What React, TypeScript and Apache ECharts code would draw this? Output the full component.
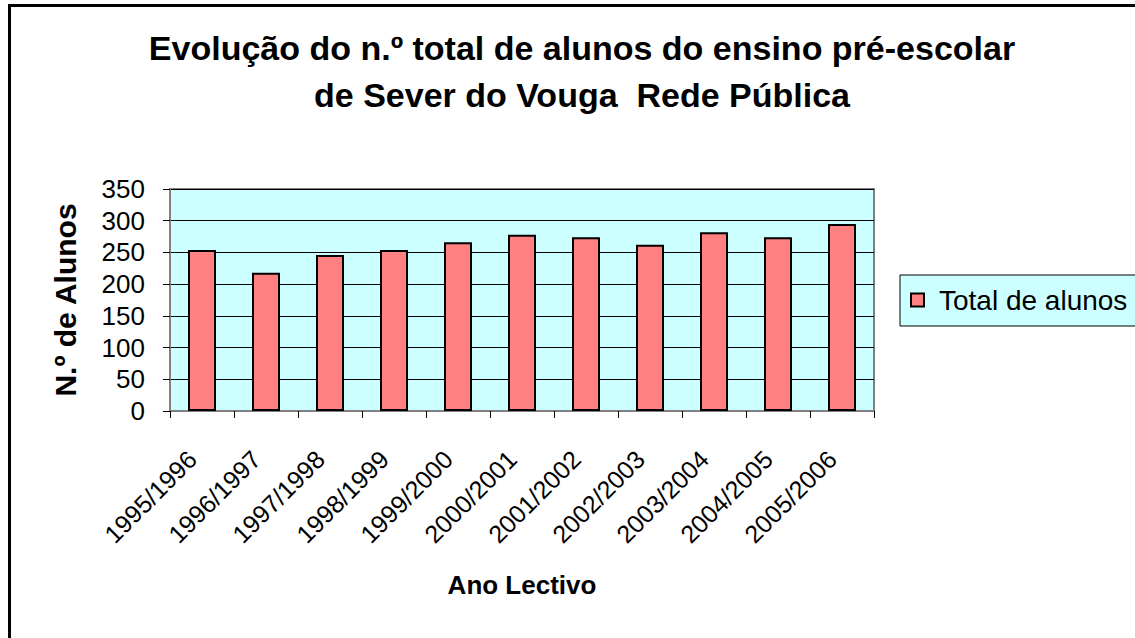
import React, { useEffect, useRef } from "react";
import * as echarts from "echarts";

const categories = [
  "1995/1996", "1996/1997", "1997/1998", "1998/1999", "1999/2000", "2000/2001",
  "2001/2002", "2002/2003", "2003/2004", "2004/2005", "2005/2006",
];
const totalAlunos = [254, 218, 246, 254, 266, 278, 274, 262, 282, 274, 295];
const seriesName = "Total de alunos";
const titleText = "Evolução do n.º total de alunos do ensino pré-escolar\nde Sever do Vouga  Rede Pública";
const yAxisName = "N.º de Alunos";
const xAxisName = "Ano Lectivo";

const FONT = "'Liberation Sans', Arial, sans-serif";

export default function App() {
  const ref = useRef<HTMLDivElement>(null);
  useEffect(() => {
    const chart = echarts.init(ref.current!, null, { renderer: "svg" });
    chart.setOption({
      animation: false,
      backgroundColor: "#ffffff",
      textStyle: { fontFamily: FONT, color: "#000" },
      title: {
        text: titleText,
        left: 577,
        textAlign: "center",
        top: 19,
        textStyle: { fontFamily: FONT, fontSize: 34, fontWeight: "bold", color: "#000", lineHeight: 47 },
      },
      graphic: [
        {
          type: "rect",
          shape: { x: 9.5, y: 5.5, width: 1300, height: 800 },
          style: { fill: "none", stroke: "#000", lineWidth: 3 },
          silent: true,
        },
      ],
      legend: {
        left: 900,
        top: 275,
        orient: "vertical",
        backgroundColor: "#CCFFFF",
        borderColor: "#000",
        borderWidth: 1,
        padding: [11, 30, 12, 10],
        itemWidth: 13,
        itemHeight: 13,
        icon: "rect",
        itemStyle: { borderColor: "#000", borderWidth: 2 },
        textStyle: { fontFamily: FONT, fontSize: 28, color: "#000", padding: [0, 0, 0, 10] },
        data: [seriesName],
      },
      grid: {
        left: 170,
        right: 261,
        top: 189,
        bottom: 227,
        show: true,
        backgroundColor: "#CCFFFF",
        borderColor: "#808080",
        borderWidth: 2,
        containLabel: false,
      },
      xAxis: {
        type: "category",
        data: categories,
        boundaryGap: true,
        name: xAxisName,
        nameLocation: "middle",
        nameGap: 161,
        nameTextStyle: { fontFamily: FONT, fontSize: 26, fontWeight: "bold", color: "#000" },
        axisLine: { lineStyle: { color: "#808080", width: 2 } },
        axisTick: { show: true, length: 7, lineStyle: { color: "#000" } },
        axisLabel: {
          rotate: 45, fontSize: 25, color: "#000", margin: 34, fontFamily: FONT, interval: 0,
          padding: [0, 14, 0, 0],
        },
      },
      yAxis: {
        type: "value",
        min: 0,
        max: 350,
        interval: 50,
        name: yAxisName,
        nameLocation: "middle",
        nameRotate: 90,
        nameGap: 90,
        nameTextStyle: { fontFamily: FONT, fontSize: 30, fontWeight: "bold", color: "#000" },
        axisLine: { show: true, lineStyle: { color: "#808080", width: 2 } },
        axisTick: { show: true, length: 7, lineStyle: { color: "#000" } },
        axisLabel: { fontSize: 26, color: "#000", margin: 25, fontFamily: FONT },
        splitLine: { show: true, lineStyle: { color: "#000", width: 1 } },
      },
      series: [
        {
          name: seriesName,
          type: "bar",
          data: totalAlunos,
          barWidth: 28,
          itemStyle: { color: "#FF8080", borderColor: "#000", borderWidth: 2 },
        },
      ],
    });
    return () => chart.dispose();
  }, []);
  return (
    <div
      ref={ref}
      style={{ position: "fixed", left: 0, top: 0, width: 1135, height: 638 }}
    />
  );
}
